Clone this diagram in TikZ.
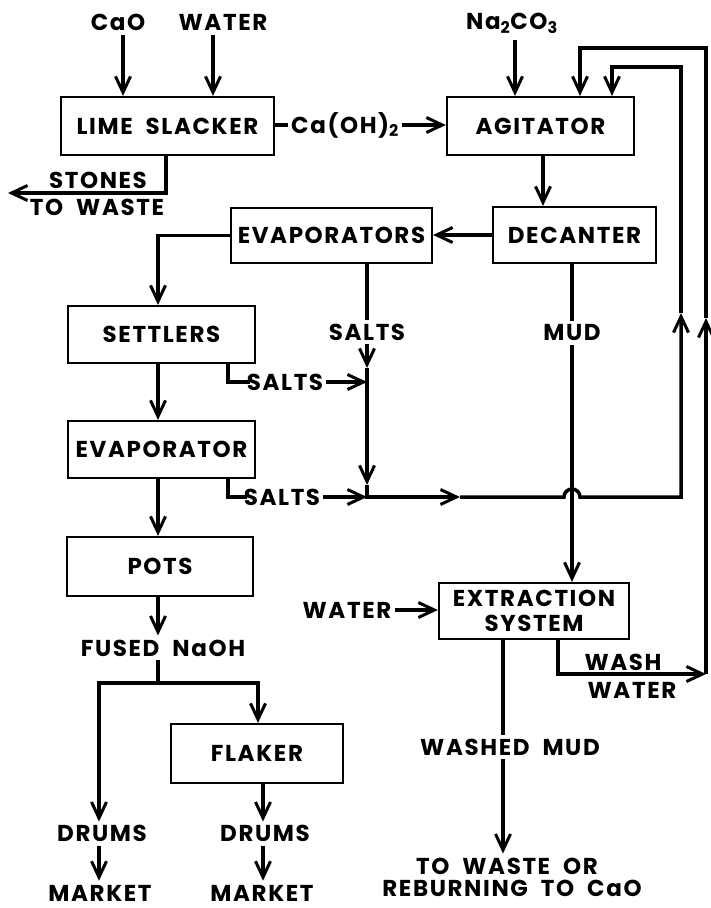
\documentclass[tikz,border=0pt]{standalone}
\usepackage{fontspec}
\setmainfont{Poppins}[LetterSpace=7,WordSpace=2]
\usetikzlibrary{arrows.meta}
\begin{document}
\begin{tikzpicture}[x=1pt,y=-1pt,
  font=\fontsize{23}{25}\selectfont\bfseries,
  box/.style={draw, line width=2.2pt, inner sep=0pt, align=center},
  lbl/.style={inner sep=0pt, align=center},
  flow/.style={line width=3.5pt},
  tip/.tip={Straight Barb[length=16pt,width=15pt,line width=3pt]}]
\useasboundingbox (0,0) rectangle (711,908);
% boxes
\node[box, minimum width=213pt, minimum height=58pt] (lime) at (167.5,126) {LIME SLACKER};
\node[box, minimum width=187pt, minimum height=58pt] (agit) at (540.5,126) {AGITATOR};
\node[box, minimum width=163pt, minimum height=56pt] (dec) at (574.5,235) {DECANTER};
\node[box, minimum width=201pt, minimum height=55pt] (evs) at (331.5,235.5) {EVAPORATORS};
\node[box, minimum width=187pt, minimum height=57pt] (sett) at (161.5,334.5) {SETTLERS};
\node[box, minimum width=187pt, minimum height=57pt] (evap) at (161.5,449.5) {EVAPORATOR};
\node[box, minimum width=186pt, minimum height=59pt] (pots) at (160,566.5) {POTS};
\node[box, minimum width=172pt, minimum height=59pt] (flaker) at (257,753.5) {FLAKER};
\node[box, minimum width=190pt, minimum height=56pt, font=\fontsize{23}{25}\selectfont\bfseries] (ext) at (534,611) {EXTRACTION\\SYSTEM};
% labels
\node[lbl] (cao) at (118,22) {CaO};
\node[lbl] (wat1) at (223,22) {WATER};
\node[lbl] (na) at (512,23) {Na\textsubscript{2}CO\textsubscript{3}};
\node[lbl] (caoh) at (345,125) {Ca(OH)\textsubscript{2}};
\node[lbl] (stones) at (98,180) {STONES};
\node[lbl] (waste1) at (97,207) {TO WASTE};
\node[lbl] (salts1) at (367,332) {SALTS};
\node[lbl] (mud) at (572,333) {MUD};
\node[lbl] (salts2) at (285,382) {SALTS};
\node[lbl] (salts3) at (282,497) {SALTS};
\node[lbl] (fused) at (163,648) {FUSED NaOH};
\node[lbl] (wat2) at (347,610) {WATER};
\node[lbl] (wash) at (623,662) {WASH};
\node[lbl] (washw) at (632,690) {WATER};
\node[lbl] (wmud) at (510,747) {WASHED MUD};
\node[lbl] (drums1) at (102,833) {DRUMS};
\node[lbl] (drums2) at (265,833) {DRUMS};
\node[lbl] (mkt1) at (100,893) {MARKET};
\node[lbl] (mkt2) at (262,893) {MARKET};
\node[lbl] (tw) at (507,866) {TO WASTE OR};
\node[lbl] (reb) at (512,888) {REBURNING TO CaO};
% coordinates
\coordinate (cx) at (123,35);
\coordinate (wx) at (213,35);
\coordinate (nx) at (515,40);
\coordinate (st) at (166,193);
\coordinate (stw) at (8,193);
\coordinate (ad) at (543,0);
\coordinate (col) at (158,0);
\coordinate (o1) at (580,48);
\coordinate (o2) at (706,48);
\coordinate (o3) at (706,674);
\coordinate (ou) at (706,318);
\coordinate (i1) at (612,67);
\coordinate (i2) at (681,67);
\coordinate (i3) at (681,497);
\coordinate (iu) at (681,313);
\coordinate (a1) at (367,368);
\coordinate (j1) at (367,382);
\coordinate (a2) at (367,485);
\coordinate (j2) at (367,497);
\coordinate (a3) at (460,497);
\coordinate (hop) at (572,497);
\coordinate (k1) at (228,382);
\coordinate (k2) at (228,497);
\coordinate (br) at (158,683);
\coordinate (bl) at (99,683);
\coordinate (brr) at (258,683);
\coordinate (fl) at (263,0);
\coordinate (ww) at (558,674);
\coordinate (wm) at (503,0);
% connectors
\draw[flow,-tip] (cx) -- (cx |- lime.north);
\draw[flow,-tip] (wx) -- (wx |- lime.north);
\draw[flow,-tip] (nx) -- (nx |- agit.north);
\draw[flow] (lime.east |- caoh) -- ([xshift=-3pt]caoh.west);
\draw[flow,-tip] ([xshift=3pt]caoh.east) -- (agit.west |- caoh);
\draw[flow,-tip] (lime.south -| st) -- (st) -- (stw);
\draw[flow,-tip] (agit.south -| ad) -- (dec.north -| ad);
\draw[flow,-tip] (dec.west) -- (evs.east |- dec.west);
\draw[flow,-tip] (evs.west) -| (sett.north -| col);
\draw[flow,-tip] (sett.south -| col) -- (evap.north -| col);
\draw[flow,-tip] (evap.south -| col) -- (pots.north -| col);
\draw[flow] (evs.south -| salts1) -- ([yshift=4pt]salts1.north);
\draw[flow,-tip] ([yshift=-4pt]salts1.south) -- (a1);
\draw[flow,-tip] (a1) -- (a2);
\draw[flow,-tip] (a2) -- (j2) -- (a3);
\draw[flow,-tip] (a3) -- ([xshift=-8pt]hop) arc[start angle=180,end angle=0,radius=8pt] -- (i3) -- (iu);
\draw[flow,-tip] (iu) -- (i2) -- (i1) -- (i1 |- agit.north);
\draw[flow] (sett.south -| k1) -- (k1) -- ([xshift=3pt]salts2.west);
\draw[flow,-tip] ([xshift=3pt]salts2.east) -- (j1);
\draw[flow] (evap.south -| k2) -- (k2) -- ([xshift=3pt]salts3.west);
\draw[flow,-tip] ([xshift=3pt]salts3.east) -- (j2);
\draw[flow] (dec.south -| mud) -- ([yshift=4pt]mud.north);
\draw[flow,-tip] ([yshift=-4pt]mud.south) -- (ext.north -| mud);
\draw[flow,-tip] ([xshift=3pt]wat2.east) -- (ext.west |- wat2);
\draw[flow,-tip] (ext.south -| ww) -- (ww) -- (o3);
\draw[flow,-tip] (o3) -- (ou);
\draw[flow,-tip] (ou) -- (o2) -- (o1) -- (o1 |- agit.north);
\draw[flow] (ext.south -| wm) -- ([yshift=4pt]wmud.north -| wm);
\draw[flow,-tip] ([yshift=-4pt]wmud.south -| wm) -- ([yshift=4pt]tw.north -| wm);
\draw[flow,-tip] (pots.south -| br) -- ([yshift=4pt]fused.north -| br);
\draw[flow] ([yshift=-4pt]fused.south -| br) -- (br);
\draw[flow,-tip] (br) -- (bl) -- ([yshift=3pt]bl |- drums1.north);
\draw[flow,-tip] (br) -- (brr) -- (brr |- flaker.north);
\draw[flow,-tip] (flaker.south -| fl) -- ([yshift=3pt]drums2.north -| fl);
\draw[flow,-tip] ([yshift=-5pt]drums1.south -| bl) -- ([yshift=4pt]mkt1.north -| bl);
\draw[flow,-tip] ([yshift=-5pt]drums2.south -| fl) -- ([yshift=4pt]mkt2.north -| fl);
\end{tikzpicture}
\end{document}
